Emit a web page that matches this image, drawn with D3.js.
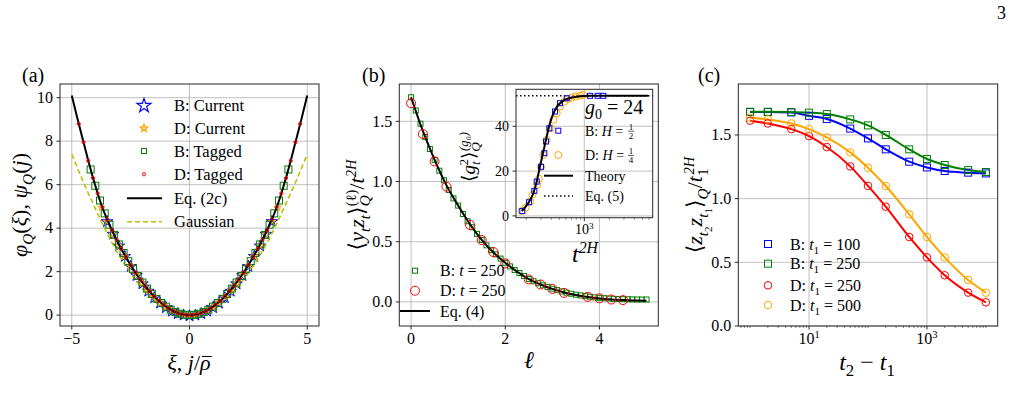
<!DOCTYPE html>
<html>
<head>
<meta charset="utf-8">
<script src="https://cdn.jsdelivr.net/npm/d3@7"></script>
<style>
body { margin: 0; background: #fff; }
svg { font-family: "Liberation Serif", "DejaVu Serif", serif; }
</style>
</head>
<body>
<svg id="fig" width="1016" height="419"></svg>
<script>
// ---------- panel (a) data ----------
const eqX = [-5,-4.75,-4.5,-4.25,-4,-3.75,-3.5,-3.25,-3,-2.75,-2.5,-2.25,-2,-1.75,-1.5,-1.25,-1,-0.75,-0.5,-0.25,0,
             0.25,0.5,0.75,1,1.25,1.5,1.75,2,2.25,2.5,2.75,3,3.25,3.5,3.75,4,4.25,4.5,4.75,5];
const eqY = [10.1,9.0,7.95,6.9,5.95,5.1,4.4,3.8,3.25,2.76,2.3,1.88,1.5,1.16,0.86,0.6,0.39,0.22,0.1,0.025,0,
             0.025,0.1,0.22,0.39,0.6,0.86,1.16,1.5,1.88,2.3,2.76,3.25,3.8,4.4,5.1,5.95,6.9,7.95,9.0,10.1];
const gaussX = [-5,-4.5,-4,-3.5,-3,-2.5,-2,-1.5,-1,-0.5,0,0.5,1,1.5,2,2.5,3,3.5,4,4.5,5];
const gaussY = [7.4,6.1,4.9,3.76,2.77,1.93,1.24,0.7,0.31,0.08,0,0.08,0.31,0.7,1.24,1.93,2.77,3.76,4.9,6.1,7.4];
const bCurX = [-3.5,-3.25,-3,-2.75,-2.5,-2.25,-2,-1.75,-1.5,-1.25,-1,-0.75,-0.5,-0.25,0,
               0.25,0.5,0.75,1,1.25,1.5,1.75,2,2.25,2.5,2.75,3,3.25,3.5];
const bCurY = [4.3,3.72,3.18,2.7,2.24,1.82,1.44,1.1,0.8,0.55,0.34,0.18,0.07,0.0,-0.03,
               0.0,0.07,0.18,0.34,0.55,0.8,1.1,1.44,1.82,2.24,2.7,3.18,3.72,4.3];
const dCurX = [-3.75,-3.5,-3.25,-3,-2.75,-2.5,-2.25,-2,-1.75,-1.5,-1.25,-1,-0.75,-0.5,-0.25,0,
               0.25,0.5,0.75,1,1.25,1.5,1.75,2,2.25,2.5,2.75,3,3.25,3.5,3.75];
const dCurY = [4.95,4.3,3.72,3.2,2.72,2.27,1.86,1.48,1.14,0.84,0.59,0.38,0.21,0.09,0.02,0,
               0.02,0.09,0.21,0.38,0.59,0.84,1.14,1.48,1.86,2.27,2.72,3.2,3.72,4.3,4.95];
const bTagX = [-4.2,-4,-3.8,-3.6,-3.4,-3.2,-3,-2.8,-2.6,-2.4,-2.2,-2,-1.8,-1.6,-1.4,-1.2,-1,-0.8,-0.6,-0.4,-0.2,0,
               0.2,0.4,0.6,0.8,1,1.2,1.4,1.6,1.8,2,2.2,2.4,2.6,2.8,3,3.2,3.4,3.6,3.8,4,4.2];
const bTagY = [6.7,5.95,5.27,4.68,4.16,3.69,3.25,2.86,2.48,2.13,1.8,1.5,1.22,0.97,0.75,0.56,0.39,0.25,0.14,0.063,0.016,0,
               0.016,0.063,0.14,0.25,0.39,0.56,0.75,0.97,1.22,1.5,1.8,2.13,2.48,2.86,3.25,3.69,4.16,4.68,5.27,5.95,6.7];
const dTagX = [-4.7,-4.5,-4.3,-4.1,-3.9,-3.7,-3.5,-3.3,-3.1,-2.9,-2.7,-2.5,-2.3,-2.1,-1.9,-1.7,-1.5,-1.3,-1.1,-0.9,-0.7,-0.5,-0.3,-0.1,
               0.1,0.3,0.5,0.7,0.9,1.1,1.3,1.5,1.7,1.9,2.1,2.3,2.5,2.7,2.9,3.1,3.3,3.5,3.7,3.9,4.1,4.3,4.5,4.7];
const dTagY = [8.8,7.95,7.1,6.3,5.6,4.97,4.4,3.92,3.47,3.05,2.67,2.3,1.96,1.65,1.36,1.1,0.86,0.65,0.47,0.31,0.19,0.1,0.035,0.004,
               0.004,0.035,0.1,0.19,0.31,0.47,0.65,0.86,1.1,1.36,1.65,1.96,2.3,2.67,3.05,3.47,3.92,4.4,4.97,5.6,6.3,7.1,7.95,8.8];

// ---------- panel (b) data ----------
const ellB = [0,0.1,0.2,0.3,0.4,0.5,0.6,0.7,0.8,0.9,1,1.1,1.2,1.3,1.4,1.5,1.6,1.7,1.8,1.9,2,2.1,2.2,2.3,2.4,2.5,
              2.6,2.7,2.8,2.9,3,3.1,3.2,3.3,3.4,3.5,3.6,3.7,3.8,3.9,4,4.1,4.2,4.3,4.4,4.5,4.6,4.7,4.8,4.9,5];
const corrB = [1.7,1.59,1.48,1.37,1.27,1.18,1.09,1.01,0.93,0.86,0.8,0.73,0.67,0.62,0.565,0.515,0.47,0.43,0.395,0.36,0.325,
               0.295,0.265,0.24,0.215,0.19,0.172,0.155,0.138,0.124,0.11,0.098,0.087,0.077,0.068,0.06,0.054,0.048,0.043,
               0.038,0.034,0.031,0.028,0.026,0.024,0.023,0.022,0.021,0.02,0.02,0.02];
const ellD = [0,0.25,0.5,0.75,1.25,1.5,1.75,2,2.5,2.75,3,3.25,3.75,4,4.25,4.5];
const corrD = [1.65,1.395,1.167,0.958,0.64,0.514,0.414,0.32,0.187,0.145,0.108,0.075,0.042,0.03,0.02,0.015];
const ellEq4 = [0,0.25,0.5,0.75,1,1.25,1.5,1.75,2,2.25,2.5,2.75,3,3.25,3.5,3.75,4,4.25,4.5,4.75,5];
const corrEq4 = [1.7,1.42,1.18,0.97,0.8,0.645,0.515,0.41,0.325,0.252,0.19,0.145,0.108,0.079,0.057,0.041,0.029,0.021,0.015,0.012,0.01];

// inset of (b)
const insTheoryT = [176,211,243,267,292,321,352,386,444,535,705,1117,5900];
const insTheoryG = [2.2,5.7,10.1,15.3,22,28.7,35.4,41.4,47.3,51,52.8,53.6,53.6];
const insBT = [179,216,250,267,301,330,346,379,444,509,614,1172,1449,1693];
const insBG = [2.2,6.1,11.2,15.3,21.9,28,33.2,39.1,46.6,50.3,52.5,53.6,53.6,53.6];
const insDT = [176,197,222,237,272,284,301,321,352,393,424,465,509,574,641,705,787,887,973];
const insDG = [2.2,3.7,6.4,9.4,13.9,16.6,21.9,27.2,33.9,39.1,42.9,45.8,48.8,51,52.2,52.8,53.3,53.7,54];
const insEq5 = 53.6;

// ---------- panel (c) data ----------
const lagC = [1,2,5,10,20,50,100,200,500,1000,2000,5000,10000];
const cB100 = [1.68,1.68,1.677,1.65,1.625,1.55,1.473,1.387,1.29,1.245,1.217,1.204,1.198];
const cB250 = [1.682,1.682,1.68,1.675,1.664,1.622,1.575,1.5,1.387,1.311,1.264,1.224,1.209];
const cD250 = [1.612,1.59,1.546,1.491,1.405,1.253,1.1,0.937,0.699,0.539,0.398,0.262,0.186];
const cD500 = [1.635,1.622,1.59,1.546,1.481,1.363,1.243,1.099,0.877,0.699,0.539,0.361,0.262];

// ---------- helpers ----------
const svg = d3.select("#fig");
const gridCol = "#b0b0b0", spineCol = "#262626";
const BLUE = "#0000ff", GREEN = "#008000", RED = "#ff0000", ORANGE = "#ffa500", OLIVE = "#bfbf00";

// rich text: parts = [text, kind, dx]; kind among "", "i", "sub", "isub", "sup", "isup", "sub2"
function rich(parent, parts, size) {
    const t = parent.append("text").style("font-size", size + "px");
    let off = 0;
    parts.forEach(p => {
        const [str, kind = "", dx = 0] = p;
        let target = 0, fs = size;
        if (kind.includes("sub2")) { target = size * 0.45; fs = size * 0.5; }
        else if (kind.includes("sub")) { target = size * 0.25; fs = size * 0.7; }
        else if (kind.includes("sup")) { target = -size * 0.36; fs = size * 0.66; }
        const ts = t.append("tspan").text(str)
            .attr("dy", target - off)
            .style("font-size", fs + "px");
        if (dx) ts.attr("dx", dx);
        if (kind.includes("i")) ts.style("font-style", "italic");
        off = target;
    });
    return t;
}

function grid(x, y, xt, yt) {
    const g = svg.append("g").attr("stroke", gridCol).attr("stroke-width", 0.8);
    const [x0, x1] = x.range(), [y0, y1] = y.range();
    xt.forEach(v => g.append("line").attr("x1", x(v)).attr("x2", x(v)).attr("y1", y0).attr("y2", y1));
    yt.forEach(v => g.append("line").attr("x1", x0).attr("x2", x1).attr("y1", y(v)).attr("y2", y(v)));
}

function frame(x, y, xt, yt, xfmt, yfmt, fs, minorX) {
    const [x0, x1] = x.range(), [y0, y1] = y.range();
    const g = svg.append("g");
    g.append("rect").attr("x", x0).attr("y", y1).attr("width", x1 - x0).attr("height", y0 - y1)
        .attr("fill", "none").attr("stroke", spineCol).attr("stroke-width", 1);
    xt.forEach(v => {
        g.append("line").attr("x1", x(v)).attr("x2", x(v)).attr("y1", y0).attr("y2", y0 + 3.5)
            .attr("stroke", spineCol);
        const t = xfmt(g, v, fs);
        t.attr("x", x(v)).attr("y", y0 + 4 + fs * 0.85).attr("text-anchor", "middle");
    });
    (minorX || []).forEach(v => {
        g.append("line").attr("x1", x(v)).attr("x2", x(v)).attr("y1", y0).attr("y2", y0 + 2)
            .attr("stroke", spineCol).attr("stroke-width", 0.6);
    });
    yt.forEach(v => {
        g.append("line").attr("x1", x0 - 3.5).attr("x2", x0).attr("y1", y(v)).attr("y2", y(v))
            .attr("stroke", spineCol);
        g.append("text").attr("x", x0 - 7).attr("y", y(v) + fs * 0.33)
            .attr("text-anchor", "end").style("font-size", fs + "px").text(yfmt(v));
    });
}

const plainX = f => (g, v, fs) => g.append("text").style("font-size", fs + "px").text(f(v));
const logX = (g, v, fs) => rich(g, [["10"], [String(Math.round(Math.log10(v))), "sup"]], fs);
const minus = s => s.replace("-", "\u2212");

function star(g, xs, ys, x, y, col, size) {
    g.selectAll(null).data(xs).enter().append("path")
        .attr("d", d3.symbol(d3.symbolStar, size))
        .attr("transform", (d, i) => `translate(${x(d)},${y(ys[i])})`)
        .attr("fill", "none").attr("stroke", col).attr("stroke-width", 1);
}
function squares(g, xs, ys, x, y, col, s) {
    g.selectAll(null).data(xs).enter().append("rect")
        .attr("x", d => x(d) - s / 2).attr("y", (d, i) => y(ys[i]) - s / 2)
        .attr("width", s).attr("height", s)
        .attr("fill", "none").attr("stroke", col).attr("stroke-width", 1);
}
function circles(g, xs, ys, x, y, col, r) {
    g.selectAll(null).data(xs).enter().append("circle")
        .attr("cx", d => x(d)).attr("cy", (d, i) => y(ys[i])).attr("r", r)
        .attr("fill", "none").attr("stroke", col).attr("stroke-width", 1);
}
function curve(g, xs, ys, x, y, col, w, dash) {
    const line = d3.line().x(d => x(d[0])).y(d => y(d[1])).curve(d3.curveMonotoneX);
    const p = g.append("path").datum(xs.map((d, i) => [d, ys[i]]))
        .attr("d", line).attr("fill", "none").attr("stroke", col).attr("stroke-width", w);
    if (dash) p.attr("stroke-dasharray", dash);
    return p;
}

// page number
svg.append("text").attr("x", 1006).attr("y", 19).attr("text-anchor", "end")
    .style("font-size", "18px").text("3");

// ================= panel (a) =================
{
    const x = d3.scaleLinear().domain([-5.5, 5.5]).range([60, 319]);
    const y = d3.scaleLinear().domain([-0.5, 10.63]).range([326, 84]);
    grid(x, y, [-5, 0, 5], [0, 2, 4, 6, 8, 10]);
    const g = svg.append("g");
    star(g, bCurX, bCurY, x, y, BLUE, 42);
    curve(g, gaussX, gaussY, x, y, OLIVE, 1.6, "5,3");
    star(g, dCurX, dCurY, x, y, ORANGE, 16);
    squares(g, bTagX, bTagY, x, y, GREEN, 7);
    curve(g, eqX, eqY, x, y, "#000", 2);
    circles(g, dTagX, dTagY, x, y, RED, 1.6);
    frame(x, y, [-5, 0, 5], [0, 2, 4, 6, 8, 10], plainX(v => minus(String(v))), v => String(v), 16);

    // legend
    const L = svg.append("g");
    const rows = [105.7, 128.3, 151, 174.3, 198.3, 221.7];
    L.append("path").attr("d", d3.symbol(d3.symbolStar, 60)).attr("transform", `translate(144,${rows[0]})`)
        .attr("fill", "none").attr("stroke", BLUE).attr("stroke-width", 1.2);
    L.append("path").attr("d", d3.symbol(d3.symbolStar, 18)).attr("transform", `translate(144,${rows[1]})`)
        .attr("fill", "none").attr("stroke", ORANGE).attr("stroke-width", 1.2);
    L.append("rect").attr("x", 141.5).attr("y", rows[2] - 2.5).attr("width", 5).attr("height", 5)
        .attr("fill", "none").attr("stroke", GREEN);
    L.append("circle").attr("cx", 144).attr("cy", rows[3]).attr("r", 1.6).attr("fill", "none").attr("stroke", RED);
    L.append("line").attr("x1", 127).attr("x2", 162).attr("y1", rows[4]).attr("y2", rows[4])
        .attr("stroke", "#000").attr("stroke-width", 2);
    L.append("line").attr("x1", 127).attr("x2", 162).attr("y1", rows[5]).attr("y2", rows[5])
        .attr("stroke", OLIVE).attr("stroke-width", 1.6).attr("stroke-dasharray", "5,3");
    ["B: Current", "D: Current", "B: Tagged", "D: Tagged", "Eq.  (2c)", "Gaussian"].forEach((s, i) => {
        L.append("text").attr("x", 174).attr("y", rows[i] + 5.5).style("font-size", "16.5px").text(s);
    });

    rich(svg, [["φ", "i"], ["Q", "isub"], ["("], ["ξ", "i"], ["), "], ["ψ", "i"], ["Q", "isub"], ["("], ["j", "i"], [")"]], 22)
        .attr("text-anchor", "middle").attr("transform", "translate(27,205) rotate(-90)");
    const xl = rich(svg, [["ξ", "i"], [", "], ["j", "i"], ["/"], ["ρ", "i"]], 22)
        .attr("text-anchor", "middle").attr("x", 189).attr("y", 370);
    // bar over rho
    const tn = xl.node();
    const ext = tn.getExtentOfChar(tn.getNumberOfChars() - 1);
    svg.append("line").attr("x1", ext.x + 2).attr("x2", ext.x + ext.width + 1)
        .attr("y1", 370 - 13.5).attr("y2", 370 - 13.5).attr("stroke", "#000").attr("stroke-width", 1);
    svg.append("text").attr("x", 22).attr("y", 82).style("font-size", "20px").text("(a)");
}

// ================= panel (b) =================
{
    const x = d3.scaleLinear().domain([-0.25, 5.25]).range([399.3, 658.3]);
    const y = d3.scaleLinear().domain([-0.2, 1.81]).range([326, 84]);
    grid(x, y, [0, 2, 4], [0, 0.5, 1, 1.5]);
    const g = svg.append("g");
    squares(g, ellB, corrB, x, y, GREEN, 5);
    curve(g, ellEq4, corrEq4, x, y, "#000", 2);
    circles(g, ellD, corrD, x, y, RED, 4.5);
    frame(x, y, [0, 2, 4], [0, 0.5, 1, 1.5], plainX(v => String(v)), d3.format(".1f"), 16);

    const L = svg.append("g");
    L.append("rect").attr("x", 412.5).attr("y", 268.2).attr("width", 5).attr("height", 5)
        .attr("fill", "none").attr("stroke", GREEN);
    L.append("circle").attr("cx", 415).attr("cy", 290.7).attr("r", 4.5).attr("fill", "none").attr("stroke", RED);
    L.append("line").attr("x1", 400).attr("x2", 430).attr("y1", 311).attr("y2", 311)
        .attr("stroke", "#000").attr("stroke-width", 2);
    rich(L, [["B: "], ["t", "i"], [" = 250"]], 16).attr("x", 440).attr("y", 276);
    rich(L, [["D: "], ["t", "i"], [" = 250"]], 16).attr("x", 440).attr("y", 296);
    L.append("text").attr("x", 440).attr("y", 316.5).style("font-size", "16px").text("Eq.  (4)");

    rich(svg, [["⟨"], ["y", "i"], ["t", "isub"], ["z", "i"], ["t", "isub"], ["⟩"], ["Q", "isub"], ["(ℓ)", "sup", -11],
               ["/"], ["t", "i"], ["2H", "isup"]], 22)
        .attr("text-anchor", "middle").attr("transform", "translate(364,205) rotate(-90)");
    rich(svg, [["ℓ", "i"]], 24).attr("text-anchor", "middle").attr("x", 529).attr("y", 368);
    svg.append("text").attr("x", 362).attr("y", 82).style("font-size", "20px").text("(b)");

    // ---- inset ----
    const xi = d3.scaleLog().domain([Math.pow(10, 2.177), Math.pow(10, 3.824)]).range([516, 652.7]);
    const yi = d3.scaleLinear().domain([-0.8, 56.5]).range([217.7, 89.3]);
    svg.append("rect").attr("x", 516).attr("y", 89.3).attr("width", 136.7).attr("height", 128.4).attr("fill", "#fff");
    grid(xi, yi, [1000], [0, 20, 40]);
    const gi = svg.append("g");
    gi.append("line").attr("x1", 516).attr("x2", 652.7).attr("y1", yi(insEq5)).attr("y2", yi(insEq5))
        .attr("stroke", "#000").attr("stroke-width", 1.5).attr("stroke-dasharray", "1.5,2.5");
    circles(gi, insDT, insDG, xi, yi, ORANGE, 3.5);
    squares(gi, insBT, insBG, xi, yi, BLUE, 5);
    curve(gi, insTheoryT, insTheoryG, xi, yi, "#000", 2);
    const minorI = [200, 300, 400, 500, 600, 700, 800, 900, 2000, 3000, 4000, 5000, 6000];
    frame(xi, yi, [1000], [0, 20, 40], logX, v => String(v), 14, minorI);

    const LI = svg.append("g");
    rich(LI, [["g", "i"], ["0", "sub"], [" = 24"]], 20).attr("x", 585).attr("y", 114);
    LI.append("rect").attr("x", 555.8).attr("y", 128.2).attr("width", 5).attr("height", 5)
        .attr("fill", "none").attr("stroke", BLUE);
    LI.append("circle").attr("cx", 558.3).attr("cy", 155).attr("r", 3.5).attr("fill", "none").attr("stroke", ORANGE);
    LI.append("line").attr("x1", 544).attr("x2", 573).attr("y1", 175.7).attr("y2", 175.7)
        .attr("stroke", "#000").attr("stroke-width", 2);
    LI.append("line").attr("x1", 544).attr("x2", 573).attr("y1", 196).attr("y2", 196)
        .attr("stroke", "#000").attr("stroke-width", 1.5).attr("stroke-dasharray", "1.5,2.5");
    [["B: ", "2", 130.7], ["D: ", "4", 155]].forEach(([lab, den, yy]) => {
        rich(LI, [[lab], ["H", "i"], [" = "]], 14).attr("x", 585).attr("y", yy + 5);
        LI.append("text").attr("x", 631).attr("y", yy - 1).attr("text-anchor", "middle")
            .style("font-size", "9px").text("1");
        LI.append("line").attr("x1", 628).attr("x2", 634).attr("y1", yy + 0.5).attr("y2", yy + 0.5)
            .attr("stroke", "#000").attr("stroke-width", 0.6);
        LI.append("text").attr("x", 631).attr("y", yy + 8).attr("text-anchor", "middle")
            .style("font-size", "9px").text(den);
    });
    LI.append("text").attr("x", 585).attr("y", 180.5).style("font-size", "14px").text("Theory");
    LI.append("text").attr("x", 585).attr("y", 201).style("font-size", "14px").text("Eq.  (5)");

    rich(svg, [["⟨"], ["g", "i"], ["t", "isub"], ["2", "sup", -4], ["⟩"], ["Q", "isub"], ["(g₀)", "isup", -9]], 19)
        .attr("text-anchor", "middle").attr("transform", "translate(475,157) rotate(-90)");
    rich(svg, [["t", "i"], ["2H", "isup"]], 24).attr("text-anchor", "middle").attr("x", 585).attr("y", 262);
}

// ================= panel (c) =================
{
    const x = d3.scaleLog().domain([Math.pow(10, -0.2), Math.pow(10, 4.2)]).range([738.3, 997.7]);
    const y = d3.scaleLinear().domain([0, 1.9]).range([326, 84]);
    grid(x, y, [10, 1000], [0, 0.5, 1, 1.5]);
    const g = svg.append("g");
    const series = [[cB100, BLUE, "sq"], [cB250, GREEN, "sq"], [cD250, RED, "ci"], [cD500, ORANGE, "ci"]];
    series.forEach(([vals, col]) => curve(g, lagC, vals, x, y, col, 2));
    series.forEach(([vals, col, m]) => {
        if (m === "sq") squares(g, lagC, vals, x, y, col, 7);
        else circles(g, lagC, vals, x, y, col, 3.8);
    });
    const minorC = x.ticks().filter(v => v !== 10 && v !== 1000);
    frame(x, y, [10, 1000], [0, 0.5, 1, 1.5], logX, d3.format(".1f"), 16, minorC);

    const L = svg.append("g");
    const rows = [244, 263.7, 285.3, 305];
    const labs = [["B: ", "100"], ["B: ", "250"], ["D: ", "250"], ["D: ", "500"]];
    series.forEach(([vals, col, m], i) => {
        if (m === "sq") L.append("rect").attr("x", 764.5).attr("y", rows[i] - 3.5).attr("width", 7).attr("height", 7)
            .attr("fill", "none").attr("stroke", col);
        else L.append("circle").attr("cx", 768).attr("cy", rows[i]).attr("r", 3.8).attr("fill", "none").attr("stroke", col);
        rich(L, [[labs[i][0]], ["t", "i"], ["1", "sub"], [" = " + labs[i][1]]], 16).attr("x", 790).attr("y", rows[i] + 5.5);
    });

    rich(svg, [["⟨"], ["z", "i"], ["t", "isub"], ["2", "sub2"], ["z", "i"], ["t", "isub"], ["1", "sub2"], ["⟩"],
               ["Q", "isub"], ["/"], ["t", "i"], ["1", "sub"], ["2H", "isup", -6]], 22)
        .attr("text-anchor", "middle").attr("transform", "translate(702,205) rotate(-90)");
    rich(svg, [["t", "i"], ["2", "sub"], [" − "], ["t", "i"], ["1", "sub"]], 24)
        .attr("text-anchor", "middle").attr("x", 867).attr("y", 370);
    svg.append("text").attr("x", 698).attr("y", 82).style("font-size", "20px").text("(c)");
}
</script>
</body>
</html>
